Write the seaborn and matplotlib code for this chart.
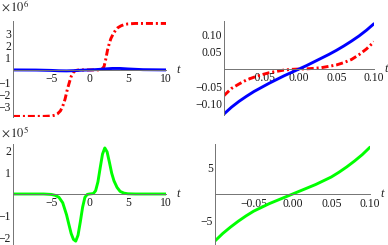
import numpy as np
import pandas as pd
import matplotlib
matplotlib.use('Agg')
import matplotlib.pyplot as plt
import seaborn as sns
from matplotlib.ticker import AutoMinorLocator

# values (top panels x 1e6 / raw, bottom-left x 1e5)
t_wide_red = [-10, -8, -6, -5, -4.5, -4.2, -3.8, -3.5, -3.2, -2.9, -2.6, -2.4, -2.1, -1.9, -1.6, -1.3,
              0, 1.3, 1.6, 1.9, 2.1, 2.35, 2.6, 2.8, 3.1, 3.4, 3.7, 4.1, 4.5, 5, 6, 8, 10]
red_wide = [-3.8, -3.8, -3.8, -3.77, -3.7, -3.6, -3.35, -2.97, -2.4, -1.6, -0.95, -0.54, -0.2, -0.08, -0.02, 0,
            0, 0, 0.05, 0.27, 0.8, 1.6, 2.2, 2.57, 2.95, 3.24, 3.45, 3.6, 3.7, 3.76, 3.8, 3.8, 3.8]

t_wide_blue = [-10, -7, -5, -4, -3, -2, -1, 0, 1, 2, 3, 4, 5, 7, 10]
blue_wide = [0, -0.01, -0.04, -0.07, -0.08, -0.06, -0.02, 0, 0.03, 0.08, 0.12, 0.12, 0.08, 0.02, 0]

t_zoom = [-0.1, -0.09, -0.08, -0.07, -0.06, -0.05, -0.04, -0.03, -0.02, -0.01, 0,
          0.01, 0.02, 0.03, 0.04, 0.05, 0.06, 0.07, 0.08, 0.09, 0.1]
blue_zoom = [-0.132, -0.112, -0.095, -0.08, -0.066, -0.054, -0.042, -0.031, -0.02, -0.01, 0,
             0.01, 0.021, 0.032, 0.043, 0.055, 0.068, 0.082, 0.097, 0.114, 0.133]
red_zoom = [-0.078, -0.057, -0.044, -0.032, -0.024, -0.017, -0.011, -0.007, -0.003, -0.001, 0,
            0.0005, 0.002, 0.004, 0.008, 0.012, 0.019, 0.028, 0.042, 0.059, 0.08]

t_wide_green = [-10, -6, -5, -4.5, -4, -3.5, -3, -2.7, -2.4, -2.1, -1.8, -1.5, -1.2, -0.9, -0.6, -0.3,
                0, 0.5, 0.8, 1.1, 1.4, 1.7, 2.0, 2.3, 2.6, 2.9, 3.2, 3.6, 4.0, 4.5, 5, 6, 10]
green_wide = [0, 0, -0.02, -0.06, -0.15, -0.4, -0.95, -1.38, -1.8, -2.07, -2.15, -1.88, -1.27, -0.6, -0.15, -0.02,
              0, 0.02, 0.15, 0.55, 1.2, 1.82, 2.1, 1.92, 1.45, 0.95, 0.6, 0.3, 0.12, 0.04, 0.01, 0, 0]

green_zoom = [-8.8, -7.4, -6.2, -5.1, -4.1, -3.2, -2.5, -1.8, -1.2, -0.6, 0,
              0.6, 1.2, 1.8, 2.5, 3.2, 4.1, 5.1, 6.2, 7.4, 8.8]

sns.set_style('white')
plt.rcParams['font.family'] = ['Liberation Serif', 'DejaVu Serif']
plt.rcParams['mathtext.fontset'] = 'stix'

W, H = 388, 245
fig = plt.figure(figsize=(W / 100, H / 100), dpi=100)


def rect(left, right, top, bottom):
    return [left / W, 1 - bottom / H, (right - left) / W, (bottom - top) / H]


dashdot = (0, (2.4, 1.0, 0.7, 1.0))


def style(ax, xlim, ylim, xt, xl, yt, yl):
    ax.set_xlim(xlim)
    ax.set_ylim(ylim)
    for s in ['top', 'right']:
        ax.spines[s].set_visible(False)
    ax.spines['bottom'].set_position(('data', 0))
    for s in ['bottom', 'left']:
        ax.spines[s].set_color('0.45')
        ax.spines[s].set_linewidth(0.7)
    ax.set_xticks(xt, xl)
    ax.set_yticks(yt, yl)
    ax.xaxis.set_minor_locator(AutoMinorLocator(5))
    ax.yaxis.set_minor_locator(AutoMinorLocator(5))
    ax.tick_params(which='major', direction='in', length=3, width=0.6, color='0.45',
                   labelsize=8.4, labelcolor='0.1')
    ax.tick_params(which='minor', direction='in', length=1.5, width=0.5, color='0.45')
    ax.tick_params(axis='x', pad=2.5)
    ax.tick_params(axis='y', pad=1.5)
    ax.set_xlabel('')
    ax.set_ylabel('')
    ax.set_facecolor('none')
    ax.annotate('t', xy=(xlim[1], 0), xytext=(12, 0), textcoords='offset pixels',
                fontsize=9, style='italic', ha='center', va='center', annotation_clip=False)


# top left
ax1 = fig.add_axes(rect(13, 166, 21, 117))
sns.lineplot(x=t_wide_red, y=red_wide, ax=ax1, color='red', lw=2.1, linestyle=dashdot, sort=False)
sns.lineplot(x=t_wide_blue, y=blue_wide, ax=ax1, color='blue', lw=2.1, sort=False)
style(ax1, (-10, 10), (-3.85, 4.0), [-10, -5, 0, 5, 10], ['', '−5', '0', '5', '10'],
      [-3, -2, -1, 1, 2, 3], ['−3', '−2', '−1', '1', '2', '3'])

# top right
ax2 = fig.add_axes(rect(224, 374, 21, 115))
sns.lineplot(x=t_zoom, y=red_zoom, ax=ax2, color='red', lw=2.1, linestyle=dashdot, sort=False)
sns.lineplot(x=t_zoom, y=blue_zoom, ax=ax2, color='blue', lw=2.1, sort=False)
style(ax2, (-0.1, 0.1), (-0.135, 0.141), [-0.1, -0.05, 0, 0.05, 0.1], ['', '−0.05', '0.00', '0.05', '0.10'],
      [-0.1, -0.05, 0.05, 0.1], ['−0.10', '−0.05', '0.05', '0.10'])

# bottom left
ax3 = fig.add_axes(rect(13, 166, 144, 244))
sns.lineplot(x=t_wide_green, y=green_wide, ax=ax3, color='#00ff00', lw=2.1, sort=False)
style(ax3, (-10, 10), (-2.28, 2.28), [-10, -5, 0, 5, 10], ['', '−5', '0', '5', '10'],
      [-2, -1, 1, 2], ['−2', '−1', '1', '2'])

# bottom right
ax4 = fig.add_axes(rect(215, 370, 144, 243.6))
sns.lineplot(x=t_zoom, y=green_zoom, ax=ax4, color='#00ff00', lw=2.1, sort=False)
style(ax4, (-0.1, 0.1), (-9.3, 9.4), [-0.1, -0.05, 0, 0.05, 0.1], ['', '−0.05', '0.00', '0.05', '0.10'],
      [-5, 5], ['−5', '5'])

fig.text(1 / W, 1 - 7 / H, r'$\times\,10^{6}$', fontsize=9, ha='left', va='center')
fig.text(1 / W, 1 - 133 / H, r'$\times\,10^{5}$', fontsize=9, ha='left', va='center')

fig.savefig('out.png', dpi=100)
